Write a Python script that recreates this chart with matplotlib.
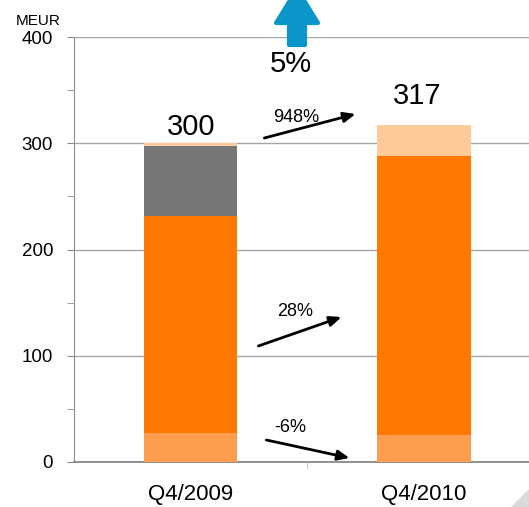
import matplotlib
matplotlib.use("Agg")
import matplotlib.pyplot as plt
import matplotlib.patches as mpatches
from matplotlib.ticker import MultipleLocator
import numpy as np

plt.rcParams['font.family'] = ['Liberation Sans', 'DejaVu Sans']

categories = ["Q4/2009", "Q4/2010"]
seg_bottom = [27.0, 25.4]      # light orange
seg_main = [204.5, 262.6]      # orange
seg_gray = [66.0, 0.0]         # gray
seg_top = [2.5, 29.0]          # peach
totals = ["300", "317"]
growth_total = "5%"
growth_labels = ["948%", "28%", "-6%"]
yticks = [0, 100, 200, 300, 400]

colors = ["#FF9D4F", "#FF7900", "#767676", "#FFCA99"]

W, H = 529, 507
fig = plt.figure(figsize=(W / 100, H / 100), dpi=100)
ax = fig.add_axes([74 / W, (H - 462) / H, 1 - 74 / W, (462 - 37) / H])

x = np.arange(len(categories))
bw = 0.4
bottom = np.zeros(len(categories))
for vals, c in zip([seg_bottom, seg_main, seg_gray, seg_top], colors):
    ax.bar(x, vals, bw, bottom=bottom, color=c, zorder=3, linewidth=0)
    bottom += np.array(vals)

label_dx = [0.0, -0.03]
label_dy = [8, 20]
for xi, tot, lab, dx, dy in zip(x, bottom, totals, label_dx, label_dy):
    ax.text(xi + dx, tot + dy, lab, ha="center", va="baseline", fontsize=21, zorder=5)

ax.set_xlim(-0.5, 1.449)
ax.set_ylim(0, 400)
ax.set_yticks(yticks)
ax.yaxis.set_minor_locator(MultipleLocator(50))
ax.tick_params(axis="y", which="both", direction="out", length=5, color="#8C8C8C",
               labelsize=13.5, pad=10)
ax.set_xticks(x)
ax.set_xticklabels(categories)
ax.set_xticks([0.5], minor=True)
ax.tick_params(axis="x", which="major", length=0, pad=16, labelsize=16)
ax.tick_params(axis="x", which="minor", length=5, color="#BFBFBF", direction="out")

ax.grid(axis="y", which="major", color="#A6A6A6", linewidth=1, zorder=1)
for s in ["top", "right"]:
    ax.spines[s].set_visible(False)
ax.spines["left"].set_color("#8C8C8C")
ax.spines["bottom"].set_color("#7F7F7F")
ax.spines["bottom"].set_linewidth(1.2)

fig.text(16 / W, 1 - 25 / H, "MEUR", fontsize=11, ha="left", va="baseline")

# growth arrows
def px2d(px, py):
    return ((px - 191.5) / 233.0, (462 - py) / 1.0625)

narrow = ['Liberation Sans Narrow', 'Liberation Sans', 'DejaVu Sans']
arrows = [((265, 138), (356, 114), (297, 117)),
          ((259, 346), (342, 317), (296, 312)),
          ((267, 440), (350, 458), (291, 427))]
for (s, e, t), lab in zip(arrows, growth_labels):
    ax.annotate("", xy=px2d(*e), xytext=px2d(*s),
                arrowprops=dict(arrowstyle="-|>,head_length=0.7,head_width=0.3",
                                color="black", lw=2, shrinkA=0, shrinkB=0), zorder=6)
    ax.text(*px2d(*t), lab, ha="center", va="center", fontsize=13, family=narrow, zorder=6)

# blue total-growth arrow (figure pixel coords)
tr = fig.dpi_scale_trans
def fp(px, py):
    return (px / 100, (H - py) / 100)
blue = "#0A96C8"
pts = [fp(289, 45), fp(289, 23), fp(276, 23), fp(297, -11), fp(318, 23), fp(305, 23), fp(305, 45)]
poly = mpatches.Polygon(pts, closed=True, transform=tr, facecolor=blue, edgecolor=blue,
                        linewidth=3, joinstyle="round", zorder=10)
fig.patches.append(poly)
fig.text(291 / W, 1 - 64 / H, growth_total, ha="center", va="center", fontsize=21)

# corner decoration
tri = mpatches.Polygon([fp(511, 507), fp(529, 507), fp(529, 489)], closed=True,
                       transform=tr, facecolor="#D9D9D9", edgecolor="none")
fig.patches.append(tri)

fig.savefig("out.png", dpi=100)
